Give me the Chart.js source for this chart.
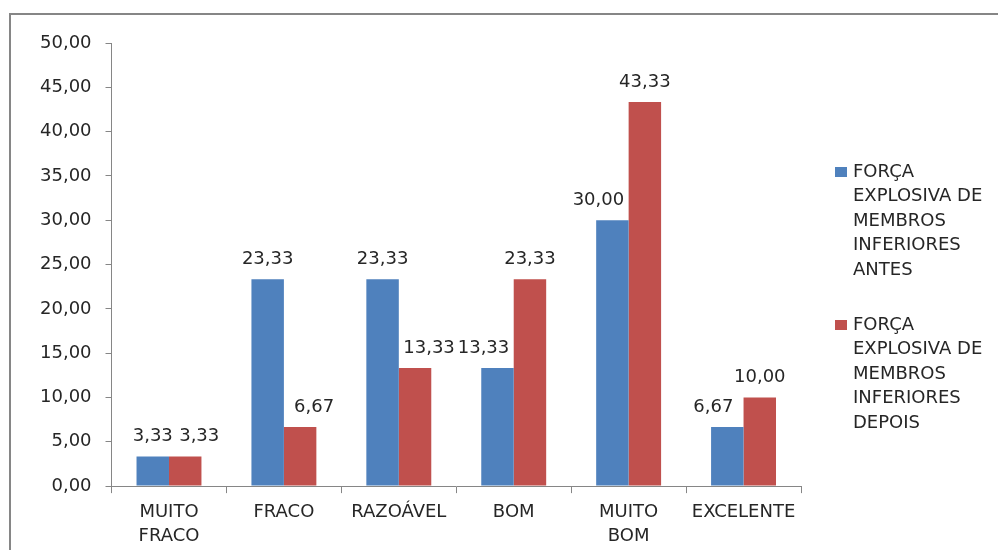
<!DOCTYPE html>
<html>
<head>
<meta charset="utf-8">
<script src="https://cdn.jsdelivr.net/npm/chart.js@4/dist/chart.umd.min.js"></script>
<style>
  html, body { margin: 0; padding: 0; background: #fff; overflow: hidden; }
  #wrap { width: 998px; height: 550px; position: relative; }
</style>
</head>
<body>
<div id="wrap"><canvas id="myChart"></canvas></div>
<script>
// categorias e percentagens
let categorias = [["MUITO", "FRACO"], "FRACO", "RAZOÁVEL", "BOM", ["MUITO", "BOM"], "EXCELENTE"];
let antes = [3.33, 23.33, 23.33, 13.33, 30.00, 6.67];
let depois = [3.33, 6.67, 13.33, 23.33, 43.33, 10.00];
let legendas = [
    ["FORÇA", "EXPLOSIVA DE", "MEMBROS", "INFERIORES", "ANTES"],
    ["FORÇA", "EXPLOSIVA DE", "MEMBROS", "INFERIORES", "DEPOIS"]
];
let cores = ["#4F81BD", "#C0504D"];
let yMin = 0, yMax = 50, yStep = 5;

const fonte = "'DejaVu Sans', sans-serif";
const corTexto = "#262626";
const corEixo = "#868686";

function fmt(v) {
    return v.toFixed(2).replace(".", ",");
}

// moldura, rótulos dos valores e legenda
const extras = {
    id: "extras",
    afterDraw(chart) {
        const ctx = chart.ctx;
        ctx.save();
        ctx.strokeStyle = corEixo;
        ctx.lineWidth = 2;
        ctx.strokeRect(10, 14, 1200, 800);

        ctx.font = "18px " + fonte;
        ctx.fillStyle = corTexto;
        ctx.textAlign = "center";
        ctx.textBaseline = "middle";
        const ds = chart.data.datasets;
        ds.forEach((d, i) => {
            chart.getDatasetMeta(i).data.forEach((bar, j) => {
                // o rótulo da barra mais baixa afasta-se para fora
                let dx = 0;
                const a = ds[0].data[j], b = ds[1].data[j];
                if (i == 0 && a < b) dx = -14;
                if (i == 1 && b <= a) dx = 14;
                ctx.fillText(fmt(d.data[j]), bar.x + dx, bar.y - 20);
            });
        });

        // legenda à direita
        const x0 = chart.chartArea.right + 34;
        let y = 172;
        ctx.textAlign = "left";
        legendas.forEach((linhas, i) => {
            ctx.fillStyle = cores[i];
            ctx.fillRect(x0, y - 5, 12, 10);
            ctx.fillStyle = corTexto;
            linhas.forEach((l, k) => {
                ctx.fillText(l, x0 + 18, y + k * 24.5);
            });
            y += 153;
        });
        ctx.restore();
    }
};

new Chart("myChart", {
    type: "bar",
    data: {
        labels: categorias,
        datasets: [{
            label: legendas[0].join(" "),
            data: antes,
            backgroundColor: cores[0],
            categoryPercentage: 0.565,
            barPercentage: 1.0
        }, {
            label: legendas[1].join(" "),
            data: depois,
            backgroundColor: cores[1],
            categoryPercentage: 0.565,
            barPercentage: 1.0
        }]
    },
    options: {
        responsive: true,
        maintainAspectRatio: false,
        animation: false,
        layout: { padding: { left: 26, top: 43, right: 197, bottom: -5 } },
        plugins: {
            legend: { display: false },
            tooltip: { enabled: false }
        },
        scales: {
            x: {
                grid: {
                    offset: true,
                    drawOnChartArea: false,
                    drawTicks: true,
                    tickLength: 7,
                    color: corEixo
                },
                border: { color: corEixo, width: 1 },
                ticks: {
                    color: corTexto,
                    padding: 7,
                    maxRotation: 0,
                    autoSkip: false,
                    font: { family: fonte, size: 18, lineHeight: 1.33 }
                }
            },
            y: {
                min: yMin,
                max: yMax,
                grid: {
                    drawOnChartArea: false,
                    drawTicks: true,
                    tickLength: 6,
                    color: corEixo
                },
                border: { color: corEixo, width: 1 },
                ticks: {
                    stepSize: yStep,
                    color: corTexto,
                    padding: 14,
                    font: { family: fonte, size: 18 },
                    callback: v => fmt(v)
                }
            }
        }
    },
    plugins: [extras]
});
</script>
</body>
</html>
